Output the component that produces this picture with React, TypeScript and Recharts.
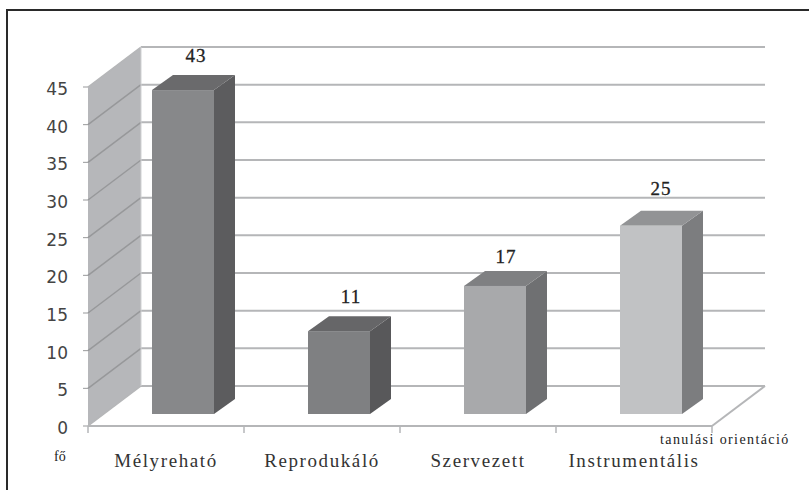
import React from 'react';
import { BarChart, Bar, XAxis, YAxis, CartesianGrid, LabelList } from 'recharts';

const categories = ['Mélyreható', 'Reprodukáló', 'Szervezett', 'Instrumentális'];
const counts = [43, 11, 17, 25];
const yTicks = [0, 5, 10, 15, 20, 25, 30, 35, 40, 45];

const frontColors = ['#87888a', '#7f8082', '#a8a9ab', '#c1c2c4'];
const sideColors = ['#5c5c5e', '#58585a', '#6f7072', '#7c7d7f'];
const topColors = ['#6a6a6c', '#666668', '#7f8082', '#929395'];
// value labels were placed by hand in the original
const labelDx = [0, -1, -2, -3];
const labelDy = [0, 0, 5, -3];

const data = categories.map((name, i) => ({ name, count: counts[i] }));

const GRID = '#b5b6b8';
const SLANT = '#97989a';
const WALL = '#b6b7ba';
// 3D look: how far the back wall sits from the front plane
const WALL_DX = 53;
const WALL_DY = 40;
// bars stand a little in from the front edge of the floor
const BAR_DX = 17;
const BAR_DY = 12;
const DEPTH_X = 21;
const DEPTH_Y = 15;

const GridLine = (p: any) => {
  const { x1, y1, x2, index, y, height } = p;
  const bottom = y + height;
  const isFloor = Math.abs(y1 - bottom) < 1;
  return (
    <g>
      {index === 0 && (
        <polygon
          points={`${x1},${bottom} ${x1},${y} ${x1 + WALL_DX},${y - WALL_DY} ${x1 + WALL_DX},${bottom - WALL_DY}`}
          fill={WALL}
        />
      )}
      <line x1={x1} y1={y1} x2={x1 + WALL_DX} y2={y1 - WALL_DY} stroke={isFloor || y1 === y ? GRID : SLANT} strokeWidth={1.5} />
      <line x1={x1 + WALL_DX} y1={y1 - WALL_DY} x2={x2 + WALL_DX} y2={y1 - WALL_DY} stroke={GRID} strokeWidth={2} />
      {isFloor && (
        <line x1={x2} y1={y1} x2={x2 + WALL_DX} y2={y1 - WALL_DY} stroke={GRID} strokeWidth={2} />
      )}
      {y1 === y && (
        <line x1={x1 + WALL_DX} y1={y - WALL_DY} x2={x1 + WALL_DX} y2={bottom - WALL_DY} stroke="#d0d1d3" strokeWidth={1} />
      )}
    </g>
  );
};

const Box = (p: any) => {
  const { x, y, width, height, index } = p;
  const l = x + BAR_DX;
  const r = l + width;
  const t = y - BAR_DY;
  const b = t + height;
  return (
    <g>
      <polygon points={`${r},${t} ${r + DEPTH_X},${t - DEPTH_Y} ${r + DEPTH_X},${b - DEPTH_Y} ${r},${b}`} fill={sideColors[index]} />
      <polygon points={`${l},${t} ${l + DEPTH_X},${t - DEPTH_Y} ${r + DEPTH_X},${t - DEPTH_Y} ${r},${t}`} fill={topColors[index]} />
      <rect x={l} y={t} width={width} height={height} fill={frontColors[index]} />
    </g>
  );
};

const ValueLabel = (p: any) => {
  const { x, y, width, value, index } = p;
  return (
    <text
      x={x + width / 2 + 30 + labelDx[index]}
      y={y - 40 + labelDy[index]}
      textAnchor="middle"
      fontFamily="'Liberation Serif', serif"
      fontSize={19}
      letterSpacing={1}
      stroke="#222"
      strokeWidth={0.3}
      fill="#222"
    >
      {value}
    </text>
  );
};

const CategoryTick = (p: any) => {
  const { x, y, payload, width, visibleTicksCount, index } = p;
  const band = width / visibleTicksCount;
  return (
    <g>
      <line x1={x - band / 2} y1={y} x2={x - band / 2} y2={y + 7} stroke={GRID} strokeWidth={1.5} />
      {index === visibleTicksCount - 1 && (
        <line x1={x + band / 2} y1={y} x2={x + band / 2} y2={y + 7} stroke={GRID} strokeWidth={1.5} />
      )}
      <text
        x={x}
        y={y + 41}
        textAnchor="middle"
        fontFamily="'Liberation Serif', serif"
        fontSize={19}
        letterSpacing={1.6}
        fill="#333"
      >
        {payload.value}
      </text>
    </g>
  );
};

const ValueTick = (p: any) => {
  const { x, y, payload } = p;
  return (
    <text x={x} y={y + 8} textAnchor="end" fontFamily="'DejaVu Sans', sans-serif" fontSize={17} fill="#444">
      {payload.value}
    </text>
  );
};

export default function App() {
  return (
    <div style={{ position: 'absolute', left: 0, top: 0, width: 809, height: 490, background: '#fff' }}>
      <div
        style={{
          position: 'absolute',
          left: 6,
          top: 9,
          width: 803,
          height: 481,
          boxSizing: 'border-box',
          borderTop: '2px solid #2a2a2a',
          borderLeft: '2px solid #2a2a2a',
        }}
      />
      <BarChart
        width={809}
        height={490}
        data={data}
        margin={{ top: 87, right: 97, bottom: 34, left: 8 }}
        barCategoryGap="60%"
        style={{ position: 'absolute', left: 0, top: 0 }}
      >
        <CartesianGrid vertical={false} horizontal={GridLine} />
        <XAxis
          dataKey="name"
          height={30}
          axisLine={{ stroke: GRID, strokeWidth: 2 }}
          tickLine={false}
          tickSize={0}
          tickMargin={0}
          interval={0}
          tick={CategoryTick}
        />
        <YAxis
          width={80}
          domain={[0, 45]}
          ticks={yTicks}
          interval={0}
          axisLine={false}
          tickSize={5}
          tickMargin={15}
          tickLine={{ stroke: SLANT }}
          tick={ValueTick}
        />
        <Bar dataKey="count" barSize={62} shape={Box} isAnimationActive={false}>
          <LabelList dataKey="count" content={ValueLabel} />
        </Bar>
      </BarChart>
      <div style={{ position: 'absolute', left: 54, top: 449, fontFamily: "'Liberation Serif', serif", fontSize: 14, color: '#222', lineHeight: '16px' }}>
        fő
      </div>
      <div style={{ position: 'absolute', left: 660, top: 432, fontFamily: "'Liberation Serif', serif", fontSize: 14, letterSpacing: 1.4, color: '#222', lineHeight: '16px', whiteSpace: 'nowrap' }}>
        tanulási orientáció
      </div>
    </div>
  );
}
